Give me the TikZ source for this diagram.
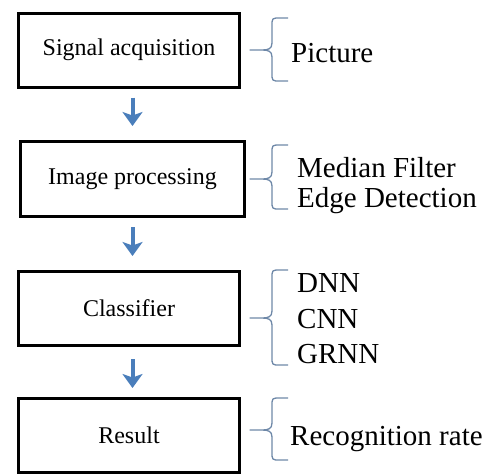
\documentclass[tikz,border=0pt]{standalone}
\usepackage{fontspec}
\setmainfont{Liberation Serif}
\usetikzlibrary{arrows.meta}
\definecolor{arrowblue}{RGB}{74,126,187}
\definecolor{bracecol}{RGB}{110,136,168}
\tikzset{
  box/.style={draw=black, line width=3pt, minimum width=221pt, minimum height=74pt,
    inner sep=0pt, font=\fontsize{24}{28}\selectfont},
  flowarrow/.style={draw=arrowblue, line width=4pt,
    -{Stealth[length=14pt,width=20pt,inset=3.5pt]}},
  bracepath/.style={draw=bracecol, line width=1.3pt, line join=round},
  side/.style={anchor=base west, inner sep=0pt, font=\fontsize{29}{35}\selectfont},
}
\newcommand\sidebrace[3]{%
  \draw[bracepath] (288,#1) -- (280,#1) .. controls (272,#1) .. (272,{#1+8})
    -- (272,{#2-7}) .. controls (272,{#2-1}) and (268,#2) .. (262,#2) -- (250,#2)
    -- (262,#2) .. controls (268,#2) and (272,{#2+1}) .. (272,{#2+7})
    -- (272,{#3-8}) .. controls (272,#3) .. (280,#3) -- (288,#3);}
\begin{document}
\begin{tikzpicture}[x=1pt,y=-1pt]
\useasboundingbox (0,0) rectangle (494,475);
% boxes
\node[box] (b1) at (129,50) {Signal acquisition};
\node[box, minimum width=224pt, minimum height=75pt] (b2) at (132.5,179) {Image processing};
\node[box] (b3) at (129,308.5) {Classifier};
\node[box] (b4) at (129,435.5) {Result};
% arrows
\draw[flowarrow, shorten <=9pt, shorten >=14pt] (b1.south -| b2.north) -- (b2.north);
\draw[flowarrow, shorten <=9pt, shorten >=14pt] (b2.south) -- (b3.north -| b2.south);
\draw[flowarrow, shorten <=12pt, shorten >=9pt] (b3.south -| b2.south) -- (b4.north -| b2.south);
% braces
\sidebrace{18}{50}{81}
\sidebrace{145}{179}{209}
\sidebrace{270}{318}{365}
\sidebrace{398}{430}{460}
% side texts
\node[side] (t1) at (291,62) {Picture};
\node[side] (t2) at (297,177) {Median Filter};
\node[side] (t3) at (297,207) {Edge Detection};
\node[side] (t4) at (297,292) {DNN};
\node[side] (t5) at (297,328) {CNN};
\node[side] (t6) at (297,363) {GRNN};
\node[side] (t7) at (290,445) {Recognition rate};
\end{tikzpicture}
\end{document}
